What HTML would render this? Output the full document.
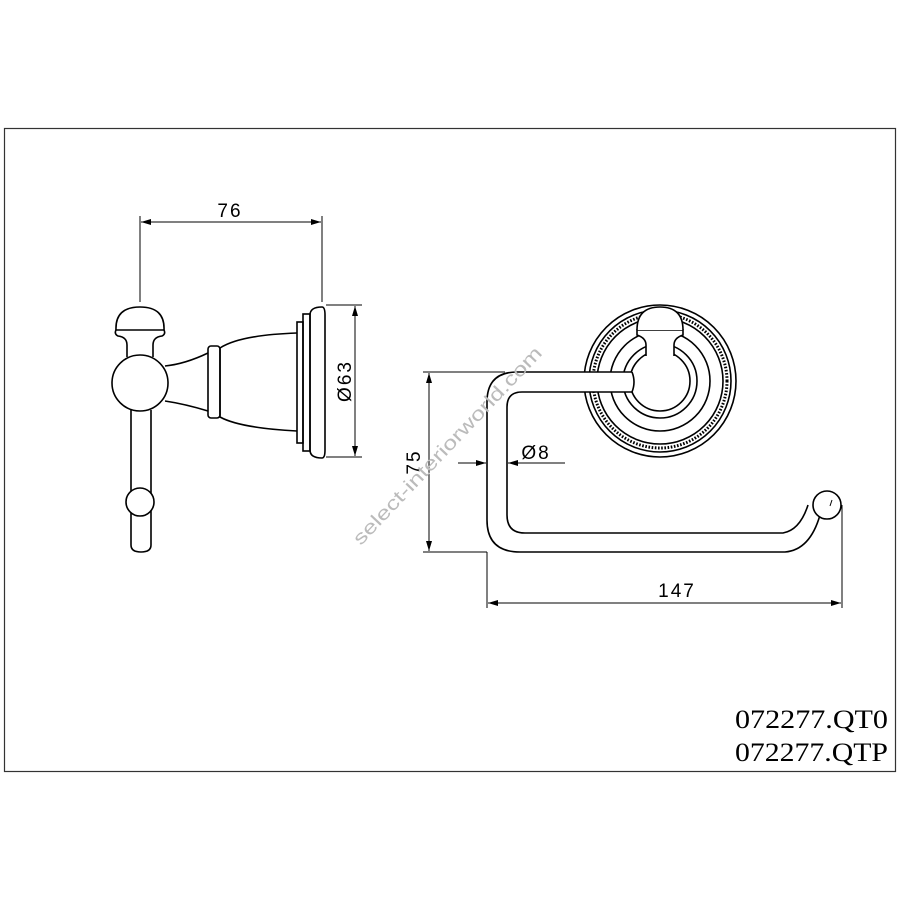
<!DOCTYPE html>
<html><head><meta charset="utf-8"><style>html,body{margin:0;padding:0;background:#fff}svg{display:block}</style></head><body>
<svg width="900" height="900" viewBox="0 0 900 900" xmlns="http://www.w3.org/2000/svg">
<defs>
<marker id="a" viewBox="0 0 10 6" refX="10" refY="3" markerWidth="10" markerHeight="6" orient="auto-start-reverse" markerUnits="userSpaceOnUse"><path d="M0,0L10,3L0,6z" fill="#000"/></marker>
</defs>
<rect x="4.5" y="128.5" width="891" height="643" fill="none" stroke="#333" stroke-width="1.2"/>
<g fill="none" stroke="#000" stroke-width="1.6">
<!-- left view -->
<path d="M322,307 Q310,307 310,315 L310,450 Q310,458 322,458 Q325,458 325,450 L325,315 Q325,307 322,307 Z"/>
<rect x="303" y="314" width="7" height="137"/>
<rect x="297" y="322" width="6" height="121"/>
<path d="M297,333 Q240,335 220,348 L220,417 Q240,428 297,431"/>
<rect x="208" y="346" width="12" height="72" rx="3"/>
<path d="M208,353 Q185,364 165,366 M208,411 Q185,404 165,401"/>
<circle cx="140" cy="383" r="28" fill="#fff"/>
<path d="M127,357 L127,345 Q127,337 118,336 Q114,334 116,330 L164,330 Q166,334 162,336 Q153,337 153,345 L153,357"/>
<path d="M116,330 Q115,307 140,307 Q165,307 164,330"/>
<path d="M131,410 L131,545 Q131,552 141,552 Q151,552 151,545 L151,410"/>
<circle cx="140" cy="502" r="14" fill="#fff"/>
<!-- right view -->
<circle cx="660" cy="381" r="76"/>
<circle cx="660" cy="381" r="67" stroke-dasharray="1.6 1.6" stroke-width="3"/>
<circle cx="660" cy="381" r="63"/>
<circle cx="660" cy="381" r="71"/>
<circle cx="660" cy="381" r="50"/>
<circle cx="660" cy="381" r="37"/>
<circle cx="660" cy="381" r="30"/>
<path d="M646,356 L646,345 Q646,338 637,335 L637,330 L683,330 L683,335 Q674,338 674,345 L674,356" fill="#fff"/>
<path d="M637,330 Q637,307 660,307 Q683,307 683,330" fill="#fff"/>
<rect x="505" y="372" width="128" height="20" fill="#fff" stroke="none"/>
<path d="M632,372 L517,372 Q487,372 487,402 L487,520 Q487,552 520,552 L785,552 Q810,550 820,515 M632,392 L522,392 Q507,392 507,407 L507,515 Q507,533 525,533 L783,533 Q800,530 808,505" fill="none"/>
<path d="M632,372 Q636,382 632,392" />
<circle cx="827" cy="505" r="14" fill="#fff"/>
<path d="M832,500 L830,506" stroke-width="1"/>
</g>
<g stroke="#000" stroke-width="1" fill="none">
<line x1="140" y1="216" x2="140" y2="302"/><line x1="322" y1="216" x2="322" y2="302"/>
<line x1="141" y1="222" x2="321" y2="222" marker-start="url(#a)" marker-end="url(#a)"/>
<line x1="326" y1="305" x2="362" y2="305"/><line x1="326" y1="457" x2="362" y2="457"/>
<line x1="355" y1="306" x2="355" y2="456" marker-start="url(#a)" marker-end="url(#a)"/>
<line x1="423" y1="372" x2="505" y2="372"/><line x1="423" y1="552" x2="487" y2="552"/>
<line x1="429" y1="373" x2="429" y2="551" marker-start="url(#a)" marker-end="url(#a)"/>
<line x1="458" y1="463" x2="486" y2="463" marker-end="url(#a)"/>
<line x1="565" y1="463" x2="508" y2="463" marker-end="url(#a)"/>
<line x1="487" y1="552" x2="487" y2="608"/><line x1="842" y1="505" x2="842" y2="608"/>
<line x1="488" y1="603" x2="841" y2="603" marker-start="url(#a)" marker-end="url(#a)"/>
</g>
<g font-family="Liberation Sans, sans-serif" font-size="19" fill="#000" letter-spacing="2">
<text x="230" y="217" text-anchor="middle">76</text>
<text transform="translate(351,381) rotate(-90)" text-anchor="middle">Ø63</text>
<text transform="translate(420,462) rotate(-90)" text-anchor="middle">75</text>
<text x="536" y="459" text-anchor="middle">Ø8</text>
<text x="677" y="597" text-anchor="middle">147</text>
</g>
<text transform="translate(452,450) rotate(-46.5)" text-anchor="middle" font-family="Liberation Sans, sans-serif" font-size="19" fill="#bbb" textLength="265" lengthAdjust="spacingAndGlyphs">select-interiorworld.com</text>
<g font-family="Liberation Serif, serif" font-size="26" fill="#000">
<text x="735" y="728" textLength="153" lengthAdjust="spacingAndGlyphs">072277.QT0</text>
<text x="735" y="761" textLength="153" lengthAdjust="spacingAndGlyphs">072277.QTP</text>
</g>
</svg>
</body></html>
